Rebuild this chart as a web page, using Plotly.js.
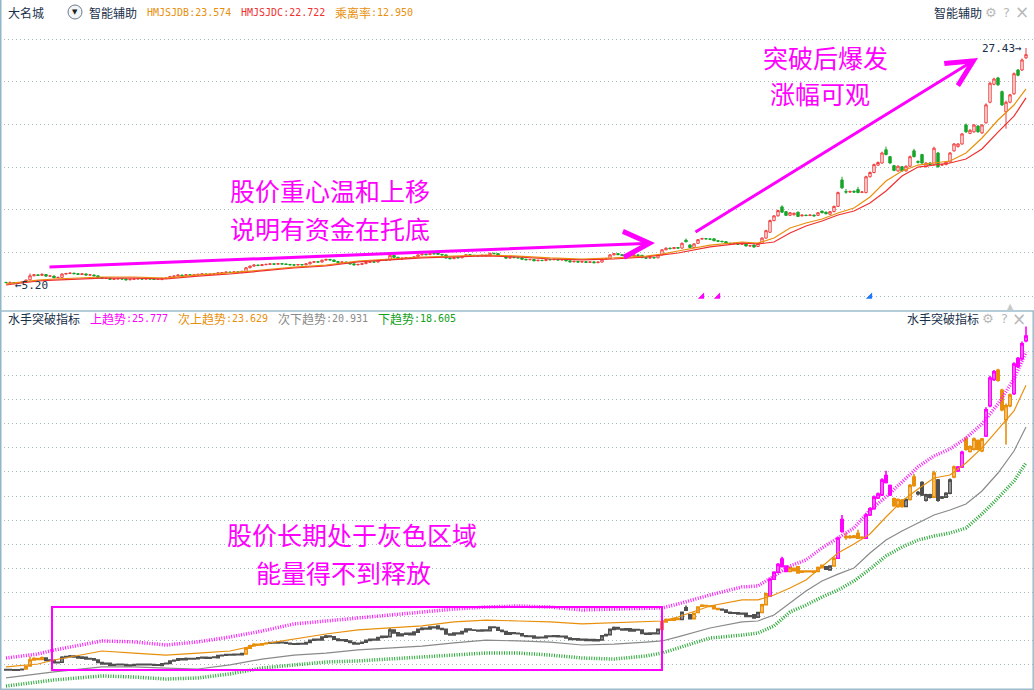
<!DOCTYPE html>
<html><head><meta charset="utf-8">
<script src="https://cdn.plot.ly/plotly-3.0.1.min.js"></script>
<style>html,body{margin:0;padding:0;background:#fff;overflow:hidden}#chart{width:1034px;height:690px}</style>
</head><body><div id="chart"></div>
<script>
// ---------- DATA ----------
const openP = [5.26,5.24,5.25,5.22,5.25,5.30,5.50,5.88,5.97,5.92,
6.00,5.85,5.86,5.70,5.73,6.05,6.10,6.13,6.08,6.00,
6.06,5.95,5.96,5.88,5.72,5.62,5.66,5.55,5.58,5.61,
5.58,5.50,5.55,5.58,5.61,5.57,5.60,5.58,5.54,5.52,
5.64,5.66,5.82,5.86,5.95,5.90,5.98,5.94,5.97,6.02,
6.06,6.00,6.04,6.03,6.16,6.19,6.23,6.20,6.25,6.22,
6.27,6.64,6.80,6.90,6.85,6.93,6.96,7.01,6.98,7.03,
7.00,6.96,6.92,6.90,6.95,6.92,7.01,7.16,7.21,7.18,
7.36,7.43,7.38,7.23,7.15,7.19,7.10,7.01,6.92,6.96,
7.03,7.15,7.21,7.18,7.33,7.41,7.38,7.82,7.63,7.45,
7.55,7.60,7.52,7.68,7.86,7.93,7.88,8.01,8.08,7.91,
7.86,7.56,7.50,7.62,7.58,7.71,7.88,7.82,7.80,7.76,
7.82,7.78,8.01,7.98,7.80,7.72,7.55,7.63,7.60,7.58,
7.45,7.40,7.43,7.30,7.35,7.32,7.42,7.40,7.45,7.38,
7.41,7.30,7.20,7.25,7.18,7.22,7.15,7.20,7.12,7.18,
7.45,7.52,7.86,7.98,7.88,7.82,7.90,7.75,7.85,7.82,
7.60,7.55,7.62,7.58,7.86,8.34,8.50,8.45,8.55,8.50,
9.25,8.80,8.55,8.95,9.35,9.40,9.37,9.38,9.20,9.15,
9.11,8.96,8.91,8.93,8.86,8.89,8.70,8.80,8.65,8.95,
9.45,10.00,11.10,11.55,12.40,11.95,11.60,11.65,11.90,11.55,
11.62,11.58,11.63,11.60,12.00,11.90,11.70,11.95,12.45,14.95,
13.85,13.80,13.88,14.05,13.78,13.75,15.25,15.65,16.35,16.55,
17.80,17.15,16.30,15.80,16.20,15.80,16.25,17.70,16.70,17.35,
16.20,16.55,16.40,17.50,16.35,16.40,16.65,17.70,18.10,18.35,
20.15,19.35,19.50,20.05,19.40,20.35,22.30,24.00,24.60,23.30,
21.40,22.30,23.10,25.35,25.35,26.50];
const closeP = [5.24,5.26,5.22,5.25,5.28,5.48,5.88,5.98,5.92,6.02,
5.85,5.87,5.70,5.73,6.05,6.10,6.13,6.08,6.02,6.07,
5.95,5.97,5.88,5.72,5.62,5.66,5.55,5.58,5.61,5.58,
5.50,5.55,5.58,5.61,5.57,5.60,5.58,5.54,5.57,5.64,
5.66,5.82,5.86,5.95,5.90,5.98,5.94,5.97,6.02,6.06,
6.00,6.04,6.07,6.16,6.19,6.23,6.20,6.25,6.22,6.30,
6.64,6.80,6.90,6.85,6.93,6.96,7.01,6.98,7.03,7.00,
6.96,6.92,6.90,6.95,6.92,7.01,7.16,7.21,7.18,7.36,
7.43,7.38,7.23,7.15,7.19,7.10,7.01,6.92,6.96,7.03,
7.15,7.21,7.18,7.33,7.41,7.36,7.82,7.63,7.45,7.55,
7.60,7.52,7.68,7.86,7.93,7.88,8.01,7.96,7.91,7.86,
7.56,7.50,7.62,7.58,7.71,7.88,7.82,7.80,7.76,7.82,
7.78,8.01,7.98,7.80,7.72,7.55,7.63,7.60,7.58,7.45,
7.40,7.43,7.30,7.35,7.32,7.42,7.40,7.45,7.38,7.41,
7.30,7.20,7.25,7.18,7.22,7.15,7.20,7.12,7.18,7.45,
7.52,7.86,7.98,7.88,7.82,7.90,7.75,7.85,7.82,7.60,
7.55,7.62,7.58,7.86,8.34,8.50,8.45,8.55,8.50,8.96,
9.10,8.55,8.90,9.30,9.41,9.37,9.34,9.20,9.15,9.11,
8.96,8.91,8.93,8.86,8.89,8.70,8.73,8.60,8.95,9.45,
10.15,11.10,11.55,12.05,11.90,11.60,11.85,11.80,11.50,11.62,
11.58,11.63,11.55,11.85,11.85,11.75,11.95,12.45,13.75,14.20,
13.80,13.85,13.80,13.75,13.81,15.25,15.65,16.40,16.60,17.50,
17.35,16.55,15.85,16.25,15.80,16.25,17.15,17.15,16.62,16.55,
16.55,16.40,17.95,16.20,16.40,16.65,17.50,18.35,18.35,19.30,
19.50,19.65,20.15,19.50,20.15,22.05,24.10,24.50,23.95,22.05,
22.30,23.00,25.00,24.85,26.30,26.80];
const highP = [5.30,5.29,5.27,5.28,5.32,5.52,6.10,6.05,6.00,6.10,
6.02,5.92,5.88,5.78,6.12,6.16,6.20,6.16,6.10,6.12,
6.08,6.02,5.99,5.90,5.74,5.70,5.68,5.62,5.65,5.63,
5.60,5.58,5.62,5.65,5.63,5.64,5.62,5.60,5.60,5.68,
5.70,5.86,5.92,6.00,5.98,6.04,6.00,6.01,6.06,6.10,
6.08,6.08,6.11,6.22,6.24,6.28,6.26,6.29,6.28,6.34,
6.72,6.86,6.96,6.94,6.98,7.02,7.06,7.04,7.08,7.06,
7.03,6.99,6.96,7.00,6.98,7.05,7.21,7.26,7.24,7.41,
7.49,7.46,7.40,7.25,7.23,7.21,7.12,7.03,7.00,7.07,
7.19,7.26,7.24,7.38,7.46,7.44,7.95,7.85,7.66,7.60,
7.65,7.63,7.73,7.91,7.99,7.96,8.06,8.04,8.12,7.94,
7.88,7.59,7.67,7.65,7.75,7.93,7.91,7.86,7.83,7.86,
7.85,8.06,8.05,8.00,7.83,7.74,7.67,7.66,7.63,7.60,
7.48,7.47,7.45,7.39,7.38,7.46,7.45,7.49,7.47,7.45,
7.43,7.32,7.29,7.27,7.26,7.24,7.24,7.22,7.22,7.50,
7.57,7.92,8.04,8.01,7.91,7.95,7.92,7.89,7.88,7.84,
7.63,7.66,7.65,7.91,8.40,8.56,8.54,8.60,8.58,9.02,
9.40,8.85,8.95,9.36,9.48,9.44,9.40,9.40,9.24,9.18,
9.13,8.99,8.97,8.95,8.93,8.91,8.77,8.82,9.00,9.52,
10.24,11.20,11.62,12.14,12.55,12.00,11.92,11.86,11.95,11.68,
11.66,11.68,11.66,11.92,12.04,11.94,12.00,12.52,13.85,15.25,
14.10,13.95,13.96,14.30,13.88,15.35,15.75,16.50,16.70,17.62,
18.10,17.22,16.38,16.32,16.28,16.32,17.25,17.90,16.80,17.42,
16.62,16.62,18.10,17.58,16.48,16.72,17.60,18.45,18.42,19.40,
20.30,19.75,20.25,20.12,20.22,22.20,24.25,24.62,24.70,23.40,
22.45,23.10,25.12,25.45,26.45,27.43];
const lowP = [5.22,5.21,5.20,5.21,5.23,5.28,5.46,5.84,5.88,5.90,
5.82,5.80,5.66,5.66,5.70,6.00,6.06,6.04,5.98,5.97,
5.92,5.91,5.85,5.69,5.58,5.59,5.52,5.52,5.55,5.55,
5.47,5.47,5.52,5.55,5.54,5.54,5.55,5.51,5.51,5.50,
5.60,5.63,5.79,5.83,5.87,5.88,5.91,5.91,5.94,5.99,
5.97,5.97,6.01,6.01,6.12,6.16,6.17,6.17,6.19,6.19,
6.24,6.60,6.76,6.81,6.82,6.89,6.92,6.94,6.95,6.96,
6.92,6.88,6.86,6.87,6.88,6.89,6.98,7.12,7.14,7.15,
7.32,7.34,7.20,7.12,7.11,7.06,6.97,6.88,6.88,6.93,
7.00,7.12,7.14,7.15,7.29,7.32,7.35,7.59,7.41,7.42,
7.51,7.48,7.49,7.65,7.82,7.84,7.85,7.92,7.88,7.82,
7.52,7.46,7.47,7.54,7.55,7.68,7.78,7.76,7.72,7.73,
7.74,7.75,7.94,7.76,7.68,7.51,7.52,7.56,7.54,7.41,
7.36,7.36,7.26,7.27,7.28,7.29,7.36,7.37,7.34,7.35,
7.26,7.16,7.17,7.14,7.15,7.11,7.12,7.08,7.09,7.15,
7.41,7.49,7.82,7.84,7.78,7.79,7.71,7.72,7.78,7.56,
7.51,7.52,7.54,7.55,7.83,8.30,8.41,8.42,8.46,8.47,
9.05,8.50,8.52,8.92,9.31,9.33,9.30,9.16,9.11,9.07,
8.92,8.87,8.87,8.82,8.82,8.66,8.66,8.56,8.62,8.92,
9.42,9.96,11.05,11.50,11.85,11.55,11.56,11.60,11.46,11.50,
11.53,11.54,11.50,11.56,11.80,11.70,11.66,11.90,12.40,14.10,
13.65,13.72,13.74,13.70,13.72,13.70,15.18,15.58,16.28,16.48,
17.28,16.48,15.78,15.72,15.72,15.74,16.18,17.08,16.50,16.48,
16.12,16.32,16.35,16.10,16.28,16.34,16.58,17.62,18.02,18.28,
19.40,19.28,19.42,19.42,19.30,20.28,22.20,23.90,23.85,21.95,
19.80,22.20,23.00,24.75,25.25,26.40];

// zone of each candle in the lower panel (G grey, O orange, M magenta), run-length
const zoneRuns = [['G',5],['O',5],['G',50],['O',6],['G',98],['O',5],['G',3],['O',7],['G',10],['O',2],
['M',5],['O',9],['G',2],['O',1],['M',2],['O',5],['M',7],['O',3],['G',1],['O',2],['G',4],['O',1],
['G',4],['O',1],['M',2],['O',5],['M',3],['O',4],['M',4]];

// indicator lines, read at these candle indices
const lineIdx = [0,8,12,24,32,40,48,56,64,72,80,88,96,104,112,120,128,136,144,152,160,164,168,176,184,188,192,196,200,204,208,212,216,220,224,228,232,236,240,244,248,252,255];
const hmjsjdb = [5.11,5.48,5.58,5.77,5.77,5.67,5.96,6.15,6.43,6.71,6.90,7.28,7.47,7.66,7.75,7.85,7.75,7.57,7.47,7.57,7.75,7.94,8.23,8.79,9.08,8.98,9.46,10.40,10.88,11.25,11.82,12.30,13.34,14.85,15.80,16.36,16.55,16.74,17.50,18.92,20.62,22.04,23.57];
const hmjsjdc = [5.01,5.39,5.48,5.67,5.67,5.58,5.86,6.05,6.34,6.62,6.81,7.19,7.38,7.57,7.66,7.76,7.66,7.47,7.38,7.47,7.66,7.85,8.04,8.61,8.98,8.89,9.08,9.93,10.59,11.07,11.63,12.01,12.77,13.90,15.32,16.17,16.36,16.55,16.93,17.88,19.48,20.99,22.72];
const upTrend = [6.01,6.27,6.52,7.11,7.05,6.85,7.05,7.37,7.75,8.21,8.40,8.59,8.79,8.98,9.17,9.30,9.37,9.30,9.11,9.17,9.24,9.24,9.50,10.08,10.60,10.66,11.31,11.95,12.34,13.12,13.76,14.41,15.57,16.41,17.38,18.35,19.06,19.51,20.22,21.13,22.42,24.03,25.78];
const subUpTrend = [5.43,5.62,5.88,6.46,6.33,6.20,6.33,6.46,6.91,7.24,7.56,7.82,7.95,8.08,8.34,8.46,8.40,8.34,8.21,8.27,8.34,8.40,8.66,9.37,9.76,9.76,10.08,10.53,11.05,11.89,12.79,13.37,14.02,15.12,16.15,16.93,17.64,17.83,18.61,19.58,20.80,21.97,23.63];
const subDownTrend = [4.72,4.98,5.11,5.43,5.43,5.36,5.30,5.56,5.94,6.20,6.33,6.53,6.65,6.78,6.98,7.17,7.11,7.04,6.85,6.91,7.04,7.11,7.37,7.95,8.34,8.40,8.79,9.56,10.34,10.98,11.43,11.82,12.79,13.63,14.21,14.73,15.25,15.57,15.96,16.80,17.96,19.38,20.93];
const downTrend = [4.20,4.46,4.59,4.85,4.78,4.65,4.72,4.98,5.36,5.56,5.75,5.82,5.94,6.07,6.20,6.33,6.33,6.20,6.01,5.94,6.14,6.33,6.65,7.30,7.49,7.62,8.08,8.98,9.43,9.95,10.40,10.98,11.76,12.60,13.18,13.63,13.89,14.08,14.41,15.31,16.34,17.44,18.61];

const signalPink = [174,178];
const signalBlue = [216];

const stockName = '大名城';
const topNames = ['HMJSJDB','HMJSJDC','乘离率'];
const topValues = [23.574, 22.722, 12.950];
const trendNames = ['上趋势','次上趋势','次下趋势','下趋势'];
const trendValues = [25.777, 23.629, 20.931, 18.605];

const topGrid = [28.28,24.26,20.24,16.17,12.11,8.04,3.97];
const bottomGrid = [25.78,24.23,22.68,21.13,19.58,18.03,16.47,14.92,13.37,11.82,10.27,8.72,7.17,5.62];

// ---------- BUILD ----------
const idx = openP.map((_, i) => i);
const zones = [];
zoneRuns.forEach(([z, n]) => { for (let k = 0; k < n; k++) zones.push(z); });

const W = 1034, H = 690;
const PX = x => x / W, PY = y => 1 - y / H;
const CJK = 'Noto Sans CJK SC';
const MONO = 'DejaVu Sans Mono';
const RED = '#f23c3c', GREEN = '#17a52a', ORANGE = '#e8900c', MAG = '#ff00ff', GREY = '#4f4f4f', DARK = '#17304a';

const traces = [];
// lower panel lines
traces.push({type:'scatter', mode:'lines', xaxis:'x2', yaxis:'y2', x:lineIdx, y:upTrend,
  line:{color:MAG, width:3.5, dash:'1px,1.5px'}, opacity:0.9, hoverinfo:'skip'});
traces.push({type:'scatter', mode:'lines', xaxis:'x2', yaxis:'y2', x:lineIdx, y:subUpTrend,
  line:{color:ORANGE, width:1.2}, hoverinfo:'skip'});
traces.push({type:'scatter', mode:'lines', xaxis:'x2', yaxis:'y2', x:lineIdx, y:subDownTrend,
  line:{color:'#8a8a8a', width:1.2}, hoverinfo:'skip'});
traces.push({type:'scatter', mode:'lines', xaxis:'x2', yaxis:'y2', x:lineIdx, y:downTrend,
  line:{color:'#12a020', width:3.5, dash:'1px,1.5px'}, opacity:0.9, hoverinfo:'skip'});

// lower panel candles by zone
const zoneColor = {G:GREY, O:ORANGE, M:MAG};
['G','O','M'].forEach(z => {
  const pick = arr => arr.map((v, i) => zones[i] === z ? v : null);
  traces.push({type:'candlestick', xaxis:'x2', yaxis:'y2', x:idx,
    open:pick(openP), high:pick(highP), low:pick(lowP), close:pick(closeP),
    increasing:{line:{color:zoneColor[z], width:1.6}, fillcolor:'#ffffff'},
    decreasing:{line:{color:zoneColor[z], width:1.6}, fillcolor:zoneColor[z]},
    whiskerwidth:0, hoverinfo:'skip'});
});

// upper panel candles
traces.push({type:'candlestick', xaxis:'x', yaxis:'y', x:idx,
  open:openP, high:highP, low:lowP, close:closeP,
  increasing:{line:{color:RED, width:1}, fillcolor:'#ffffff'},
  decreasing:{line:{color:GREEN, width:1}, fillcolor:GREEN},
  whiskerwidth:0, hoverinfo:'skip'});
traces.push({type:'scatter', mode:'lines', xaxis:'x', yaxis:'y', x:lineIdx, y:hmjsjdb,
  line:{color:ORANGE, width:1.2}, hoverinfo:'skip'});
traces.push({type:'scatter', mode:'lines', xaxis:'x', yaxis:'y', x:lineIdx, y:hmjsjdc,
  line:{color:'#f03030', width:1.2}, hoverinfo:'skip'});
// signal marks
const sigY = 3.9;
traces.push({type:'scatter', mode:'markers', xaxis:'x', yaxis:'y', x:signalPink, y:signalPink.map(() => sigY),
  marker:{symbol:'triangle-se', size:7, color:MAG}, cliponaxis:false, hoverinfo:'skip'});
traces.push({type:'scatter', mode:'markers', xaxis:'x', yaxis:'y', x:signalBlue, y:signalBlue.map(() => sigY),
  marker:{symbol:'triangle-se', size:7, color:'#1e78ff'}, cliponaxis:false, hoverinfo:'skip'});

const ann = [];
const txt = (x, y, text, color, size, family, anchor) => ann.push({xref:'paper', yref:'paper',
  x:PX(x), y:PY(y), text, showarrow:false, xanchor:anchor || 'left', yanchor:'middle',
  font:{color, size, family}});

// upper header
txt(6, 12, stockName, DARK, 12, CJK);
txt(75, 12.5, '▼', '#222', 7, 'DejaVu Sans', 'center');
txt(87, 12, '智能辅助', DARK, 12, CJK);
txt(145, 12, topNames[0] + ':' + topValues[0].toFixed(3), ORANGE, 10, MONO);
txt(239, 12, topNames[1] + ':' + topValues[1].toFixed(3), '#f03030', 10, MONO);
txt(333, 12, topNames[2], ORANGE, 12, CJK);
txt(369, 12, ':' + topValues[2].toFixed(3), ORANGE, 10, MONO);
txt(932, 12, '智能辅助', DARK, 12, CJK);
txt(991, 12, '⚙', '#b8b8b8', 13, 'DejaVu Sans', 'center');
txt(1006, 12, '?', '#b8b8b8', 13, 'DejaVu Sans', 'center');
txt(1022, 12, '×', '#b8b8b8', 17, 'DejaVu Sans', 'center');
// lower header
txt(6, 319, '水手突破指标', DARK, 12, CJK);
const trendColors = [MAG, ORANGE, '#8a8a8a', '#10a020'];
const trendX = [88, 176, 276, 376];
trendNames.forEach((n, k) => {
  txt(trendX[k], 319, n, trendColors[k], 12, CJK);
  txt(trendX[k] + n.length * 12, 319, ':' + trendValues[k].toFixed(3), trendColors[k], 10, MONO);
});
txt(905, 319, '水手突破指标', DARK, 12, CJK);
txt(988, 319, '⚙', '#b8b8b8', 13, 'DejaVu Sans', 'center');
txt(1004, 319, '?', '#b8b8b8', 13, 'DejaVu Sans', 'center');
txt(1019, 319, '×', '#b8b8b8', 17, 'DejaVu Sans', 'center');
txt(1010, 306, '▲', '#c8c8c8', 8, 'DejaVu Sans', 'center');

// price extremes
txt(980, 48, Math.max(...highP).toFixed(2) + '→', DARK, 11, MONO);
txt(13, 285, '←' + Math.min(...lowP).toFixed(2), DARK, 11, MONO);

// commentary
txt(330, 190, '股价重心温和上移', MAG, 25, CJK, 'center');
txt(330, 228, '说明有资金在托底', MAG, 25, CJK, 'center');
txt(825, 57, '突破后爆发', MAG, 25, CJK, 'center');
txt(820, 93, '涨幅可观', MAG, 25, CJK, 'center');
txt(352, 534, '股价长期处于灰色区域', MAG, 25, CJK, 'center');
txt(343, 572, '能量得不到释放', MAG, 25, CJK, 'center');

// arrows
ann.push({xref:'x', yref:'y', axref:'x', ayref:'y', x:162.25, y:8.98, ax:10.5, ay:6.71, text:'',
  showarrow:true, arrowhead:5, arrowsize:1.7, arrowwidth:3, arrowcolor:MAG, standoff:0});
ann.push({xref:'x', yref:'y', axref:'x', ayref:'y', x:243, y:26.49, ax:172, ay:9.93, text:'',
  showarrow:true, arrowhead:5, arrowsize:1.7, arrowwidth:3, arrowcolor:MAG, standoff:0});

const boxRange = {i0:11.5, i1:164, lo:5.23, hi:9.30};
const shapes = [
  {type:'line', xref:'paper', yref:'paper', x0:PX(0.75), x1:PX(0.75), y0:0, y1:1, line:{color:'#8fb6c9', width:1.5}},
  {type:'line', xref:'paper', yref:'paper', x0:0, x1:1, y0:PY(311), y1:PY(311), line:{color:'#9dbccb', width:1.5}},
  {type:'line', xref:'paper', yref:'paper', x0:PX(1033.2), x1:PX(1033.2), y0:PY(311), y1:0, line:{color:'#9dbccb', width:1.5}},
  {type:'line', xref:'paper', yref:'paper', x0:0, x1:1, y0:PY(689.2), y1:PY(689.2), line:{color:'#9dbccb', width:1.5}},
  {type:'circle', xref:'paper', yref:'paper', x0:PX(68), x1:PX(82), y0:PY(19), y1:PY(5), line:{color:'#6a7a8a', width:1}, fillcolor:'#f3f5f7'},
  {type:'rect', xref:'x2', yref:'y2', x0:boxRange.i0, x1:boxRange.i1, y0:boxRange.lo, y1:boxRange.hi, line:{color:MAG, width:2}, fillcolor:'rgba(0,0,0,0)'}
];

const gridStyle = {showticklabels:false, ticks:'', gridcolor:'#a7b8c0', griddash:'1px,3px', gridwidth:1, zeroline:false, showline:false, fixedrange:true};
const xStyle = {range:[-1.5, 257], showgrid:false, zeroline:false, showticklabels:false, ticks:'', showline:false, fixedrange:true, rangeslider:{visible:false}, domain:[0,1]};

const layout = {
  width:W, height:H, margin:{l:0, r:0, t:0, b:0}, paper_bgcolor:'#ffffff', plot_bgcolor:'#ffffff',
  showlegend:false, hovermode:false, boxgap:0.15,
  xaxis:Object.assign({anchor:'y'}, xStyle),
  xaxis2:Object.assign({anchor:'y2'}, xStyle),
  yaxis:Object.assign({anchor:'x', domain:[1 - 300/H, 1 - 28/H], range:[3.592, 29.323], tickvals:topGrid}, gridStyle),
  yaxis2:Object.assign({anchor:'x2', domain:[0, 1 - 312/H], range:[3.942, 28.361], tickvals:bottomGrid}, gridStyle),
  shapes, annotations:ann
};

Plotly.newPlot('chart', traces, layout, {staticPlot:true, displayModeBar:false});
</script>
</body></html>
